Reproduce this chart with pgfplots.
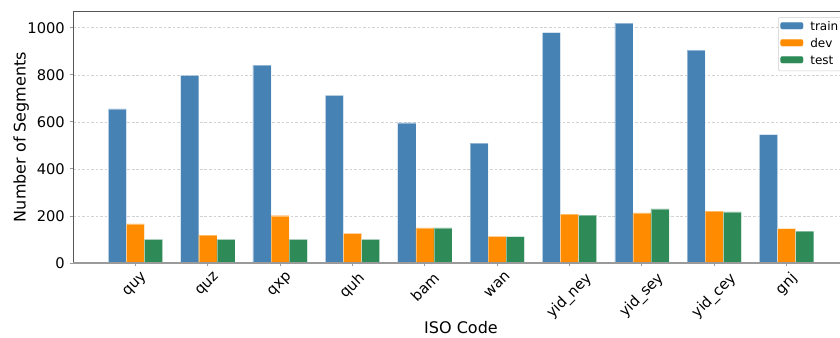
\documentclass[border=0pt]{standalone}
\usepackage{fontspec}
\setmainfont{DejaVu Sans}
\usepackage{graphicx}
\usepackage{pgfplots}
\pgfplotsset{compat=1.18}
\usepackage{pgfplotstable}

\definecolor{trainblue}{HTML}{4682B4}
\definecolor{devorange}{HTML}{FF8C00}
\definecolor{testgreen}{HTML}{2E8B57}
\definecolor{spinedark}{HTML}{555555}
\definecolor{spinegray}{HTML}{9A9A9A}

% Segments per split for each language code
\pgfplotstableread{
idx train dev test
0   655   166 100
1   797   118 100
2   841   201 100
3   712   126 100
4   596   149 149
5   509   113 112
6   979   208 204
7   1020  213 230
8   905   221 217
9   546   146 136
}\segments

\pgfplotsset{
  splitbar/.style={
    ybar, bar width=0.25, fill=#1, draw=white, draw opacity=0.4,
    line width=0.3pt,
    legend image code/.code={%
      \path (0pt,6.5pt);
      \fill[#1] (0pt,-1.3pt) rectangle (17pt,3.9pt);}
  }
}

\begin{document}
\begin{tikzpicture}
\useasboundingbox (-54.75pt,-55.5pt) rectangle (575.25pt,197.25pt);
\clip (-54.75pt,-55.5pt) rectangle (575.25pt,197.25pt);
\begin{axis}[
  at={(0pt,0pt)}, anchor=south west,
  scale only axis, width=582pt, height=189pt,
  xmin=-0.8625, xmax=9.8625, ymin=0, ymax=1071,
  axis line style={spinedark, line width=0.6pt},
  xtick={0,...,9},
  xticklabels={\rotatebox{45}{quy},\rotatebox{45}{quz},\rotatebox{45}{qxp},
    \rotatebox{45}{quh},\rotatebox{45}{bam},\rotatebox{45}{wan},
    \rotatebox{45}{yid\_ney},\rotatebox{45}{yid\_sey},
    \rotatebox{45}{yid\_cey},\rotatebox{45}{gnj}},
  ytick={0,200,...,1000},
  xtick pos=bottom, ytick pos=left,
  tick align=outside, major tick length=2.6pt,
  tick style={spinegray, line width=0.6pt},
  xticklabel style={anchor=north, font=\fontsize{11}{13}\selectfont},
  yticklabel style={font=\fontsize{11}{13}\selectfont},
  /pgf/number format/assume math mode=true,
  /pgf/number format/set thousands separator={},
  ymajorgrids,
  grid style={dash pattern=on 2pt off 1.4pt, gray!35, line width=0.4pt},
  xlabel={ISO Code},
  xlabel style={at={(axis description cs:0.5,-0.2778)}, anchor=base,
    font=\fontsize{12}{14}\selectfont},
  ylabel={Number of Segments},
  ylabel style={at={(axis description cs:-0.061,0.5)}, anchor=base,
    font=\fontsize{12}{14}\selectfont},
  legend cell align=left,
  legend style={at={(axis description cs:0,1)}, anchor=north west,
    xshift=528.75pt, yshift=-4.5pt,
    draw=gray!40, rounded corners=1.5pt, fill=white,
    font=\fontsize{9}{10}\selectfont,
    inner xsep=1.5pt, inner ysep=1pt, row sep=0pt,
    nodes={inner xsep=1.5pt, inner ysep=1.8pt, text height=6.8pt, text depth=1.8pt},
    /tikz/every odd column/.append style={column sep=3.75pt}},
]
\addplot[splitbar=trainblue, bar shift=-0.25] table[x=idx, y=train] {\segments};
\addlegendentry{train}
\addplot[splitbar=devorange, bar shift=0] table[x=idx, y=dev] {\segments};
\addlegendentry{dev}
\addplot[splitbar=testgreen, bar shift=0.25] table[x=idx, y=test] {\segments};
\addlegendentry{test}
% lighter bottom spine
\draw[spinegray, line width=1pt] (rel axis cs:0,0) -- (rel axis cs:1,0);
\end{axis}
\end{tikzpicture}
\end{document}
